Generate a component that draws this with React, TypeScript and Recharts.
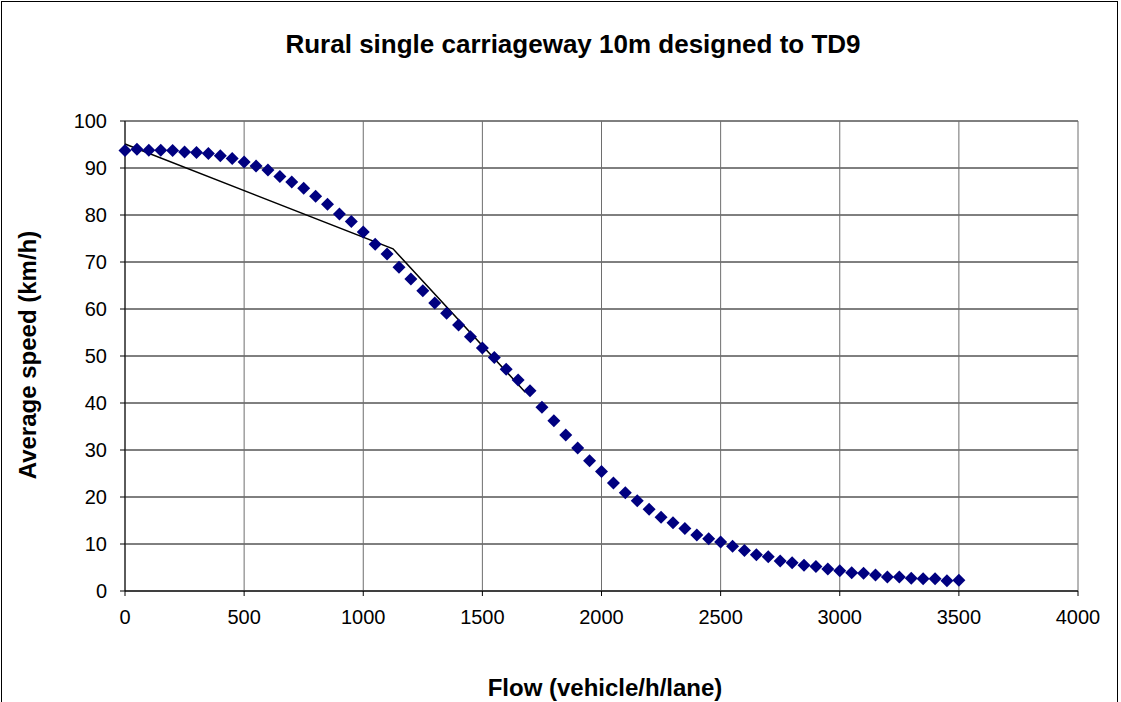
import React from "react";
import { ScatterChart, Scatter, XAxis, YAxis, CartesianGrid } from "recharts";

// flow (vehicle/h/lane) of each plotted marker
const flowValues = [
  0, 50, 100, 150, 200, 250, 300, 350, 400, 450,
  500, 550, 600, 650, 700, 750, 800, 850, 900, 950,
  1000, 1050, 1100, 1150, 1200, 1250, 1300, 1350, 1400, 1450,
  1500, 1550, 1600, 1650, 1700, 1750, 1800, 1850, 1900, 1950,
  2000, 2050, 2100, 2150, 2200, 2250, 2300, 2350, 2400, 2450,
  2500, 2550, 2600, 2650, 2700, 2750, 2800, 2850, 2900, 2950,
  3000, 3050, 3100, 3150, 3200, 3250, 3300, 3350, 3400, 3450,
  3500,
];

// average speed (km/h)
const speedValues = [
  93.7, 94.0, 93.8, 93.8, 93.7, 93.4, 93.3, 93.1, 92.6, 92.0,
  91.3, 90.4, 89.6, 88.2, 87.0, 85.7, 84.0, 82.3, 80.2, 78.6,
  76.4, 73.8, 71.7, 68.9, 66.4, 63.9, 61.3, 59.1, 56.6, 54.1,
  51.7, 49.7, 47.2, 44.9, 42.6, 39.1, 36.2, 33.2, 30.4, 27.7,
  25.4, 23.0, 20.9, 19.2, 17.4, 15.7, 14.5, 13.3, 11.9, 11.1,
  10.4, 9.5, 8.6, 7.7, 7.3, 6.4, 6.0, 5.5, 5.2, 4.7,
  4.3, 3.9, 3.8, 3.4, 3.0, 3.0, 2.7, 2.6, 2.6, 2.2,
  2.3,
];

// TD9 piecewise line
const lineFlow = [0, 1125, 1680];
const lineSpeed = [95.1, 72.8, 42.3];

const xTicks = [0, 500, 1000, 1500, 2000, 2500, 3000, 3500, 4000];
const yTicks = [0, 10, 20, 30, 40, 50, 60, 70, 80, 90, 100];

const FONT = '"Liberation Sans", Arial, sans-serif';

const markerData = flowValues.map((flow, i) => ({ flow, speed: speedValues[i] }));
const lineData = lineFlow.map((flow, i) => ({ flow, speed: lineSpeed[i] }));

function Diamond(props: any) {
  const { cx, cy } = props;
  if (cx == null || cy == null) return <g />;
  const r = 6.5;
  return (
    <polygon
      points={`${cx},${cy - r} ${cx + r},${cy} ${cx},${cy + r} ${cx - r},${cy}`}
      fill="#000080"
    />
  );
}

export default function App() {
  return (
    <div
      style={{
        position: "absolute",
        left: 0,
        top: 0,
        width: 1121,
        height: 702,
        background: "#fff",
        overflow: "hidden",
        fontFamily: FONT,
      }}
    >
      <div
        style={{
          position: "absolute",
          left: 1,
          top: 1,
          width: 1115,
          height: 720,
          borderLeft: "1px solid #000",
          borderTop: "1px solid #000",
          borderRight: "1px solid #000",
        }}
      />
      <div
        style={{
          position: "absolute",
          left: 0,
          width: 1146,
          top: 29,
          textAlign: "center",
          fontWeight: "bold",
          fontSize: 26,
          color: "#000",
        }}
      >
        Rural single carriageway 10m designed to TD9
      </div>
      <div
        style={{
          position: "absolute",
          left: 0,
          width: 1210,
          top: 674,
          textAlign: "center",
          fontWeight: "bold",
          fontSize: 24,
          color: "#000",
        }}
      >
        Flow (vehicle/h/lane)
      </div>
      <div
        style={{
          position: "absolute",
          left: 28,
          top: 355,
          transform: "translate(-50%, -50%) rotate(-90deg)",
          whiteSpace: "nowrap",
          fontWeight: "bold",
          fontSize: 24,
          color: "#000",
        }}
      >
        Average speed (km/h)
      </div>
      <ScatterChart
        width={1121}
        height={702}
        margin={{ top: 121, right: 43, bottom: 0, left: 0 }}
        style={{ position: "absolute", left: 0, top: 0 }}
      >
        <CartesianGrid vertical={false} stroke="#000" strokeOpacity={1} />
        <CartesianGrid horizontal={false} stroke="#6e6e6e" strokeOpacity={1} />
        <XAxis
          type="number"
          dataKey="flow"
          domain={[0, 4000]}
          ticks={xTicks}
          interval={0}
          height={111}
          tickSize={5}
          tickMargin={14}
          axisLine={{ stroke: "#000" }}
          tickLine={{ stroke: "#000" }}
          tick={{ fill: "#000", fontSize: 20, fontFamily: FONT }}
        />
        <YAxis
          type="number"
          dataKey="speed"
          domain={[0, 100]}
          ticks={yTicks}
          interval={0}
          width={125}
          tickSize={5}
          tickMargin={13}
          axisLine={{ stroke: "#000" }}
          tickLine={{ stroke: "#000" }}
          tick={{ fill: "#000", fontSize: 20, fontFamily: FONT }}
        />
        <Scatter
          data={lineData}
          line={{ stroke: "#000", strokeWidth: 1.5 }}
          lineType="joint"
          shape={() => <g />}
          isAnimationActive={false}
        />
        <Scatter
          data={markerData}
          shape={Diamond}
          isAnimationActive={false}
        />
      </ScatterChart>
    </div>
  );
}
